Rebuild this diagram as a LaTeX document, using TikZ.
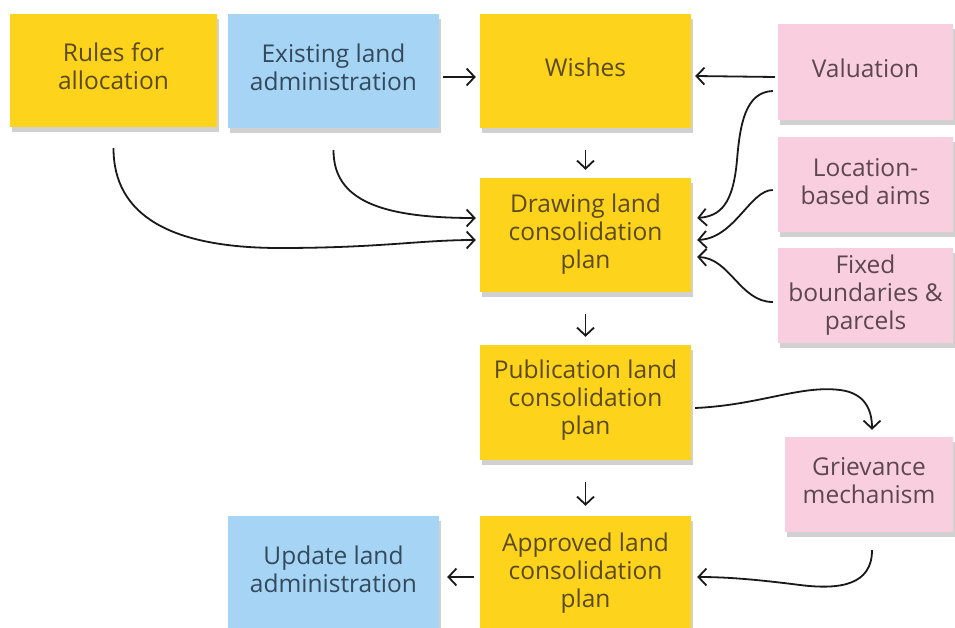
\documentclass[tikz,border=0pt]{standalone}
\usepackage{fontspec}
\setmainfont{Open Sans}
\usetikzlibrary{arrows.meta,shadows}
\definecolor{noteyellow}{HTML}{FDD31C}
\definecolor{noteblue}{HTML}{A6D4F4}
\definecolor{notepink}{HTML}{F9CFE0}
\definecolor{txtyellow}{HTML}{5A4A1E}
\definecolor{txtblue}{HTML}{33495C}
\definecolor{txtpink}{HTML}{5C4650}
\tikzset{
  note/.style={rectangle, inner sep=0pt,
    drop shadow={shadow xshift=2pt, shadow yshift=-5pt, opacity=0.18, fill=black}},
  yel/.style={note, fill=noteyellow, minimum width=211pt, minimum height=114pt},
  blu/.style={note, fill=noteblue, minimum width=211pt, minimum height=114pt},
  pnk/.style={note, fill=notepink, minimum width=175pt, minimum height=96pt},
  txt/.style={inner sep=0pt, align=center, font=\fontsize{24.5}{28}\selectfont},
  ytxt/.style={txt, text=txtyellow},
  btxt/.style={txt, text=txtblue},
  ptxt/.style={txt, text=txtpink},
  arr/.style={draw=black!90, line width=1.8pt, -{Straight Barb[length=8pt,width=17pt,line width=1.8pt]}}
}
\begin{document}
\begin{tikzpicture}[x=1pt,y=-1pt]
\useasboundingbox[fill=white] (0,0) rectangle (955,628);
% boxes
\node[yel, minimum width=207pt, minimum height=113pt] (rules) at (113.5,70.5) {};
\node[blu] (exist) at (333.5,71) {};
\node[yel] (wish) at (585.5,71) {};
\node[pnk] (val) at (865.5,72) {};
\node[pnk, minimum height=95pt] (loc) at (865.5,184.5) {};
\node[pnk, minimum height=95pt] (fix) at (865.5,295.5) {};
\node[yel] (drw) at (585.5,235) {};
\node[yel, minimum height=115pt] (pub) at (585.5,402.5) {};
\node[pnk, minimum width=168pt, minimum height=95pt] (griev) at (869,484.5) {};
\node[yel] (appr) at (585.5,573) {};
\node[blu] (upd) at (333.5,573) {};
% texts
\node[ytxt] (rules-t) at ([yshift=4pt]rules.center) {Rules for\\allocation};
\node[btxt] (exist-t) at ([yshift=4pt]exist.center) {Existing land\\administration};
\node[ytxt] (wish-t) at ([yshift=4pt]wish.center) {Wishes};
\node[ptxt] (val-t) at ([yshift=4pt]val.center) {Valuation};
\node[ptxt] (loc-t) at ([yshift=3pt]loc.center) {Location-\\based aims};
\node[ptxt] (fix-t) at ([yshift=0pt]fix.center) {Fixed\\boundaries \&\\parcels};
\node[ytxt] (drw-t) at ([yshift=1pt]drw.center) {Drawing land\\consolidation\\plan};
\node[ytxt] (pub-t) at ([yshift=2pt]pub.center) {Publication land\\consolidation\\plan};
\node[ptxt] (griev-t) at ([yshift=4pt]griev.center) {Grievance\\mechanism};
\node[ytxt] (appr-t) at ([yshift=0pt]appr.center) {Approved land\\consolidation\\plan};
\node[btxt] (upd-t) at ([yshift=4pt]upd.center) {Update land\\administration};
% straight connectors
\draw[arr] ([xshift=4pt,yshift=-6pt]exist.east) -- ([xshift=-4pt,yshift=-6pt]wish.west);
\draw[arr] ([xshift=-3pt,yshift=-5pt]val.west) -- ([xshift=4pt,yshift=-5pt]wish.east);
\draw[arr] ([yshift=-22pt]wish.south) -- ([yshift=8pt]drw.north);
\draw[arr] ([yshift=-22pt]drw.south) -- ([yshift=8pt]pub.north);
\draw[arr] ([yshift=-22pt]pub.south) -- ([yshift=10pt]appr.north);
\draw[arr] ([xshift=-6pt,yshift=-4pt]appr.west) -- ([xshift=8pt,yshift=-4pt]upd.east);
% curved connectors
\draw[arr] ([yshift=-21pt]rules.south) .. controls (113.5,215) and (170,248) .. (280,248)
  .. controls (380,248) and (420,240) .. ([xshift=-4pt,yshift=-5pt]drw.west);
\draw[arr] ([yshift=-22pt]exist.south) .. controls (333.5,200) and (380,218) .. ([xshift=-4pt,yshift=17pt]drw.west);
\draw[arr] ([xshift=-5pt,yshift=-19pt]val.west) .. controls (745,92) and (740,125) .. (737,160)
  .. controls (733,205) and (720,216) .. ([xshift=6pt,yshift=17pt]drw.east);
\draw[arr] ([xshift=-5pt,yshift=-5.5pt]loc.west) .. controls (750,190) and (735,238) .. ([xshift=6pt,yshift=-5pt]drw.east);
\draw[arr] ([xshift=-5pt,yshift=-6.5pt]fix.west) .. controls (740,302) and (730,258) .. ([xshift=6pt,yshift=-22pt]drw.east);
\draw[arr] ([xshift=4pt,yshift=-5.5pt]pub.east) .. controls (760,405) and (800,385) .. (840,390)
  .. controls (865,393) and (872,410) .. ([xshift=3pt,yshift=7pt]griev.north);
\draw[arr] ([xshift=3pt,yshift=-18pt]griev.south) .. controls (872,585) and (840,590) .. (800,585)
  .. controls (760,580) and (730,577) .. ([xshift=6pt,yshift=-4pt]appr.east);
\end{tikzpicture}
\end{document}
